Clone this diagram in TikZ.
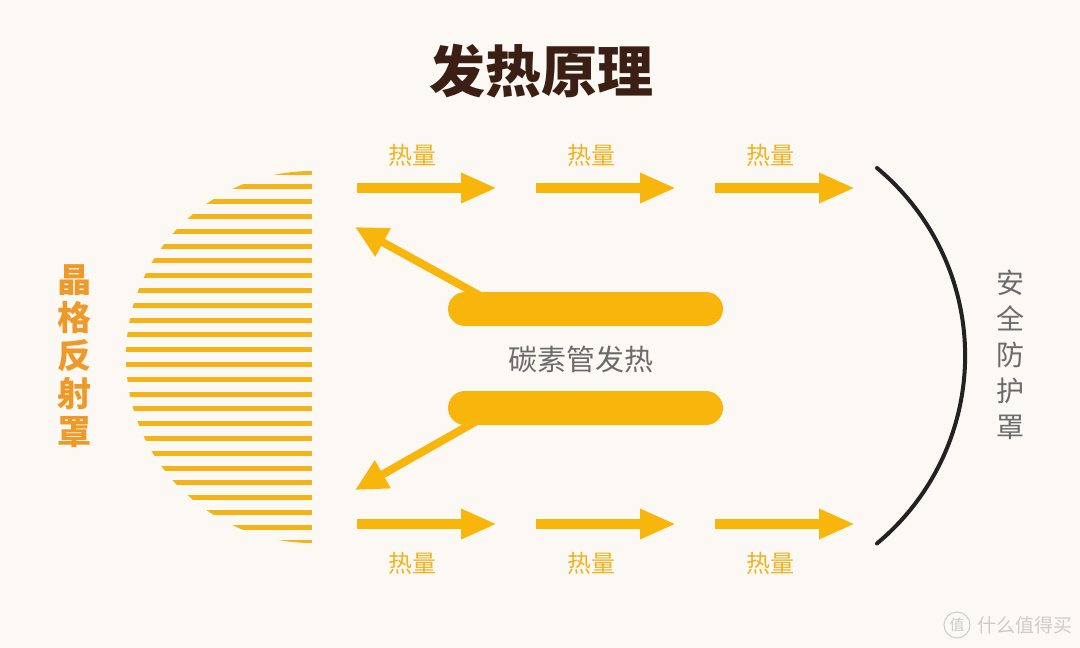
\documentclass[tikz,border=0pt]{standalone}
\usepackage{fontspec}
\setmainfont{Noto Sans CJK SC}
\usetikzlibrary{arrows.meta,positioning}

\definecolor{cream}{HTML}{FCF9F4}
\definecolor{amber}{HTML}{F8B60C}
\definecolor{stripecol}{HTML}{F5B31A}
\definecolor{heatcol}{HTML}{F0B322}
\definecolor{reflcol}{HTML}{EE9A2A}
\definecolor{greytext}{HTML}{6B6B6B}
\definecolor{titlecol}{HTML}{3B1F15}
\definecolor{guardcol}{HTML}{222222}
\definecolor{wmcol}{HTML}{CFCCC8}

\tikzstyle{heat}=[draw=amber,line width=10pt,-{Triangle[length=36pt,width=28pt]}]
\tikzstyle{ray}=[draw=amber,line width=8pt,-{Triangle[length=32pt,width=30pt]}]
\tikzstyle{tube}=[draw=amber,line width=34pt,line cap=round]
\tikzstyle{stripe}=[draw=stripecol,line width=5pt]
\tikzstyle{heatlabel}=[text=heatcol,font=\fontsize{24}{24}\selectfont]

\begin{document}
\begin{tikzpicture}[x=1pt,y=-1pt]

   \fill[cream] (0,0) rectangle (1080,648);

   \node[text=titlecol,font=\bfseries\fontsize{56}{56}\selectfont] (title) at (541,71) {发热原理};

   % reflector
   \begin{scope}
   \clip (312,357) circle[radius=186];
   \foreach \k in {0,...,25}
      \draw[stripe] (120,172+\k*14.8) -- (312,172+\k*14.8);
   \end{scope}
   \node[text=reflcol,align=center,font=\bfseries\fontsize{34}{38}\selectfont] (reflector) at (74,356) {晶\\格\\反\\射\\罩};

   % heat flow
   \foreach \i/\x in {1/357,2/536,3/715}{
      \coordinate (ts\i) at (\x,188);
      \coordinate (te\i) at (\x+140,188);
      \coordinate (bs\i) at (\x,524);
      \coordinate (be\i) at (\x+140,524);
      \draw[heat] (ts\i) -- (te\i);
      \draw[heat] (bs\i) -- (be\i);
      \node[heatlabel] (toplabel\i) at (\x+55,155) {热量};
      \node[heatlabel] (botlabel\i) at (\x+55,563) {热量};
   }

   % carbon tubes
   \coordinate (ru1) at (486,299);
   \coordinate (rt1) at (355,227);
   \coordinate (ru2) at (482,418);
   \coordinate (rt2) at (355,490);
   \draw[ray] (ru1) -- (rt1);
   \draw[ray] (ru2) -- (rt2);

   \coordinate (t1l) at (465,309);
   \coordinate (t1r) at (706,309);
   \coordinate (t2l) at (465,408);
   \coordinate (t2r) at (706,408);
   \draw[tube] (t1l) -- (t1r);
   \draw[tube] (t2l) -- (t2r);
   \node[text=greytext,font=\fontsize{29}{29}\selectfont] (tubelabel) at (581,359) {碳素管发热};

   % guard
   \coordinate (gtop) at (877,168);
   \draw[guardcol,line width=4pt,line cap=round] (gtop) arc[start angle=-50.3,end angle=50.3,radius=244];
   \node[text=greytext,align=center,font=\fontsize{28}{36}\selectfont] (guard) at (1010,355) {安\\全\\防\\护\\罩};

   % watermark
   \node[draw=wmcol,line width=1pt,circle,inner sep=2pt,text=wmcol,font=\fontsize{15}{15}\selectfont] (wmlogo) at (957,625) {值};
   \node[right=3pt of wmlogo,text=wmcol,font=\fontsize{19}{19}\selectfont] (wmtext) {什么值得买};
\end{tikzpicture}
\end{document}
